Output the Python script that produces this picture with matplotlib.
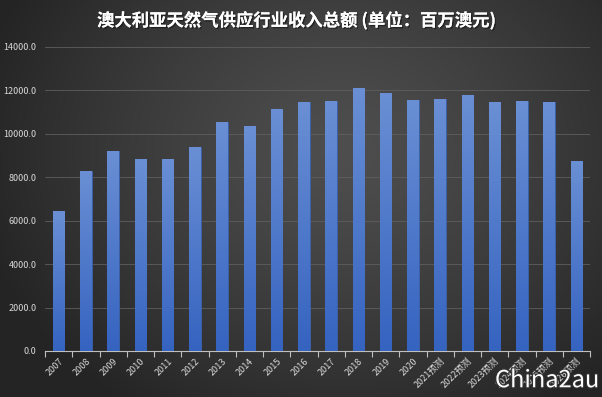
import numpy as np
import matplotlib
matplotlib.use("Agg")
import matplotlib.pyplot as plt
import matplotlib.patheffects as pe
from matplotlib.colors import LinearSegmentedColormap

plt.rcParams['font.family'] = ['Noto Sans CJK SC', 'DejaVu Sans']

categories = ["2007", "2008", "2009", "2010", "2011", "2012", "2013", "2014",
              "2015", "2016", "2017", "2018", "2019", "2020",
              "2021预测", "2022预测", "2023预测", "2024预测", "2025预测", "2026预测"]
values = [6450, 8290, 9210, 8840, 8850, 9400, 10550, 10350,
          11150, 11450, 11500, 12100, 11900, 11550,
          11600, 11800, 11480, 11500, 11450, 8760]
yticks = [0, 2000, 4000, 6000, 8000, 10000, 12000, 14000]
title = "澳大利亚天然气供应行业收入总额 (单位：百万澳元)"

fig = plt.figure(figsize=(6.02, 3.97), dpi=100)

# radial gradient background
bg = fig.add_axes([0, 0, 1, 1], zorder=0)
yy, xx = np.mgrid[0:397, 0:602]
cx, cy = 340, 150
r = np.sqrt(((xx - cx) / 360.0) ** 2 + ((yy - cy) / 300.0) ** 2)
shade = np.clip(0x4e - (0x4e - 0x26) * r ** 1.3, 0x24, 0x4e) / 255.0
bg.imshow(np.dstack([shade, shade, shade]), aspect='auto', extent=[0, 1, 0, 1])
bg.axis('off')

ax = fig.add_axes([45 / 602, 46 / 397, 545 / 602, 304 / 397], zorder=1)
ax.patch.set_alpha(0)

x = np.arange(len(categories))
bars = ax.bar(x, values, width=0.42, color='#4472c4', edgecolor='#3a62ad',
              linewidth=0.6, zorder=3)

cmap = LinearSegmentedColormap.from_list('bg', ['#3563c0', '#6a8fd4'])
grad = np.linspace(0, 1, 256).reshape(-1, 1)
for b in bars:
    x0, y0 = b.get_x(), b.get_y()
    w, h = b.get_width(), b.get_height()
    im = ax.imshow(grad, extent=[x0, x0 + w, y0, y0 + h], origin='lower',
                   cmap=cmap, aspect='auto', zorder=3.5)
    im.set_clip_path(b)

ax.set_xlim(-0.5, len(categories) - 0.5)
ax.set_ylim(0, 14000)
ax.set_yticks(yticks)
ax.set_yticklabels([f"{v:.1f}" for v in yticks], fontsize=6.5, color='#d9d9d9')
ax.yaxis.grid(True, color='#5e5e5e', linewidth=0.6, zorder=1)
ax.tick_params(axis='y', length=0, pad=6)

ax.set_xticks(x)
ax.set_xticklabels(categories, rotation=45, ha='right', rotation_mode='anchor',
                   fontsize=6.5, color='#d9d9d9')
ax.tick_params(axis='x', length=0, pad=4)
ax.set_xticks(np.arange(-0.5, len(categories)), minor=True)
ax.tick_params(axis='x', which='minor', length=4, color='#bfbfbf', width=0.8)

for s in ['top', 'right', 'left']:
    ax.spines[s].set_visible(False)
ax.spines['bottom'].set_color('#bfbfbf')
ax.spines['bottom'].set_linewidth(0.8)
ax.set_axisbelow(True)

fig.text(0.493, 0.948, title, ha='center', va='center', fontsize=12.5,
         fontweight='bold', color='white',
         path_effects=[pe.withSimplePatchShadow(offset=(1, -1), shadow_rgbFace='#111111', alpha=0.6), pe.Normal()])

fig.text(0.995, 0.012, "China2au", ha='right', va='bottom', fontsize=17,
         color='white', path_effects=[pe.withStroke(linewidth=1.5, foreground='#333333')])

fig.savefig('out.png', dpi=100)
